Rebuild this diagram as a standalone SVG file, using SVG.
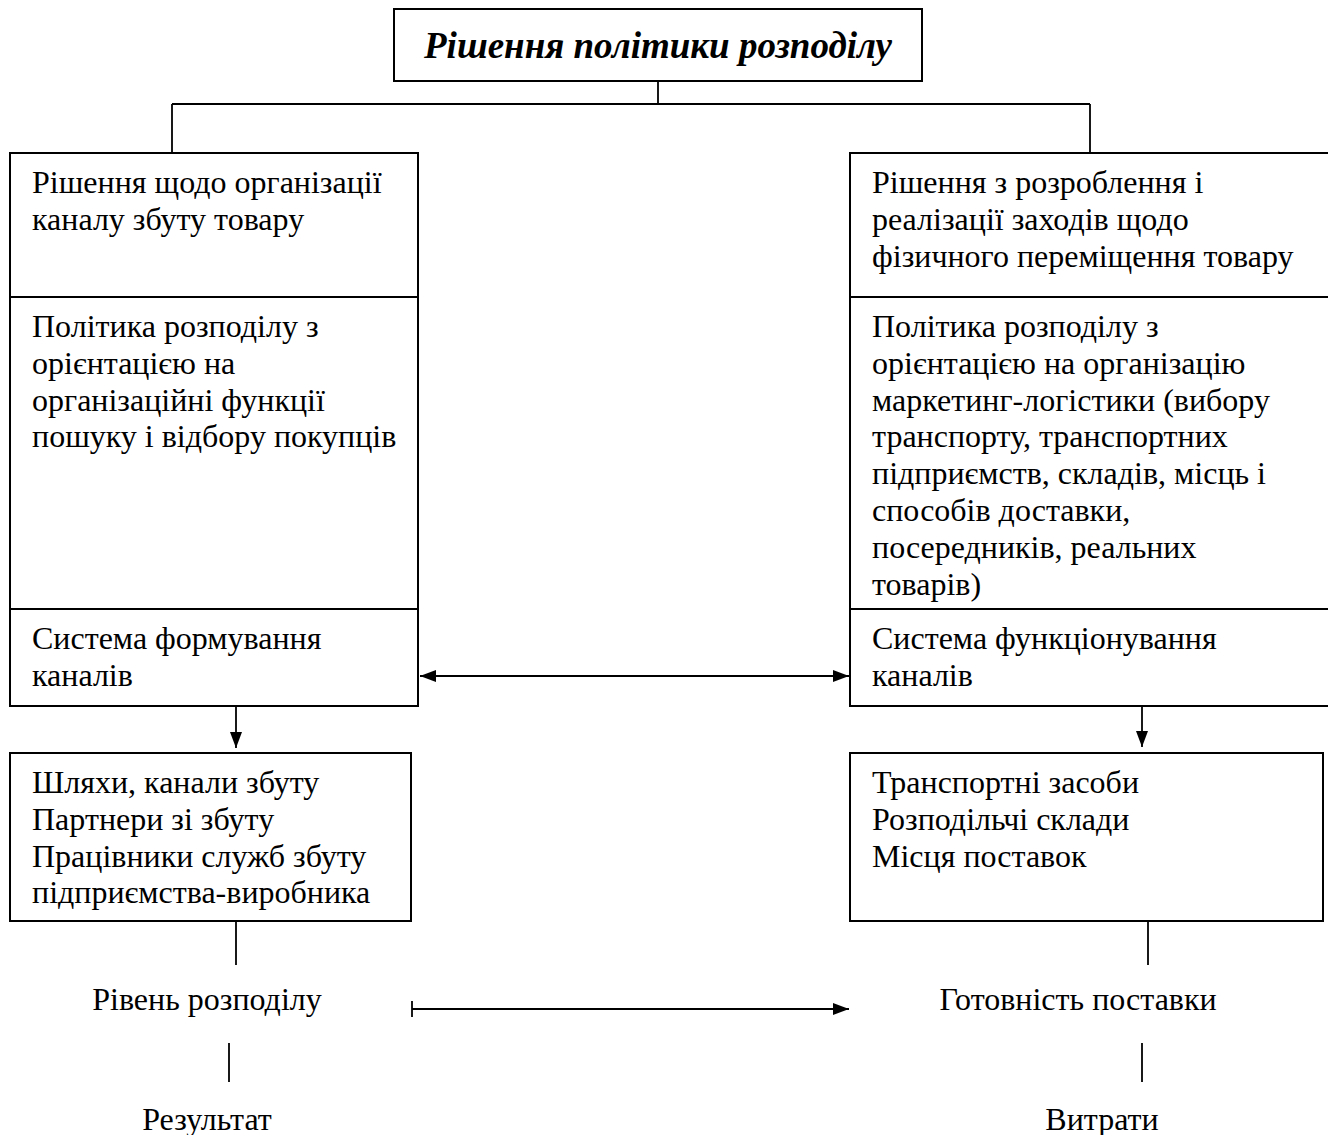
<svg xmlns="http://www.w3.org/2000/svg" width="1328" height="1135" viewBox="0 0 1328 1135">
  <style>
    .box { fill: #fff; stroke: #000; stroke-width: 2; }
    .div { stroke: #000; stroke-width: 2; }
    .ln { stroke: #000; stroke-width: 1.8; fill: none; }
    .t { font-family: "Liberation Serif", "Times New Roman", serif; font-size: 32px; fill: #000; }
    .title { font-family: "Liberation Serif", "Times New Roman", serif; font-size: 37px; font-weight: bold; font-style: italic; fill: #000; }
    .c { text-anchor: middle; }
  </style>
  <defs>
    <marker id="arrBig" viewBox="0 0 10 10" refX="10" refY="5" markerWidth="16" markerHeight="12" markerUnits="userSpaceOnUse" orient="auto-start-reverse" preserveAspectRatio="none">
      <path d="M0,0 L10,5 L0,10 Z" fill="#000"/>
    </marker>
  </defs>

  <rect width="1328" height="1135" fill="#fff"/>

  <!-- connectors -->
  <g id="connectors">
    <path class="ln" d="M658,81 V104 M172,104 H1090 M172,104 V153 M1090,104 V153"/>
    <line class="ln" x1="420" y1="676" x2="849" y2="676" marker-start="url(#arrBig)" marker-end="url(#arrBig)"/>
    <line class="ln" x1="236" y1="706" x2="236" y2="748" marker-end="url(#arrBig)"/>
    <line class="ln" x1="1142" y1="706" x2="1142" y2="747" marker-end="url(#arrBig)"/>
    <line class="ln" x1="236" y1="922" x2="236" y2="965"/>
    <line class="ln" x1="229" y1="1043" x2="229" y2="1082"/>
    <line class="ln" x1="1148" y1="922" x2="1148" y2="965"/>
    <line class="ln" x1="1142" y1="1043" x2="1142" y2="1082"/>
    <line class="ln" x1="412" y1="1009" x2="849" y2="1009" marker-end="url(#arrBig)"/>
    <line class="ln" x1="412" y1="1001" x2="412" y2="1017"/>
  </g>

  <!-- title -->
  <g id="title">
    <rect class="box" x="394" y="9" width="528" height="72"/>
    <text class="title c" x="658" y="58">Рішення політики розподілу</text>
  </g>

  <!-- left column -->
  <g id="left-column">
    <rect class="box" x="10" y="153" width="408" height="553"/>
    <line class="div" x1="10" y1="297" x2="418" y2="297"/>
    <line class="div" x1="10" y1="609" x2="418" y2="609"/>
    <text class="t" x="32" y="193">Рішення щодо організації</text>
    <text class="t" x="32" y="230">каналу збуту товару</text>
    <text class="t" x="32" y="337">Політика розподілу з</text>
    <text class="t" x="32" y="374">орієнтацією на</text>
    <text class="t" x="32" y="411">організаційні функції</text>
    <text class="t" x="32" y="447">пошуку і відбору покупців</text>
    <text class="t" x="32" y="649">Система формування</text>
    <text class="t" x="32" y="686">каналів</text>
  </g>

  <!-- right column -->
  <g id="right-column">
    <rect class="box" x="850" y="153" width="482" height="553"/>
    <line class="div" x1="850" y1="297" x2="1332" y2="297"/>
    <line class="div" x1="850" y1="609" x2="1332" y2="609"/>
    <text class="t" x="872" y="193">Рішення з розроблення і</text>
    <text class="t" x="872" y="230">реалізації заходів щодо</text>
    <text class="t" x="872" y="267">фізичного переміщення товару</text>
    <text class="t" x="872" y="337">Політика розподілу з</text>
    <text class="t" x="872" y="374">орієнтацією на організацію</text>
    <text class="t" x="872" y="411">маркетинг-логістики (вибору</text>
    <text class="t" x="872" y="447">транспорту, транспортних</text>
    <text class="t" x="872" y="484">підприємств, складів, місць і</text>
    <text class="t" x="872" y="521">способів доставки,</text>
    <text class="t" x="872" y="558">посередників, реальних</text>
    <text class="t" x="872" y="595">товарів)</text>
    <text class="t" x="872" y="649">Система функціонування</text>
    <text class="t" x="872" y="686">каналів</text>
  </g>

  <!-- lower boxes -->
  <g id="sales-channels">
    <rect class="box" x="10" y="753" width="401" height="168"/>
    <text class="t" x="32" y="793">Шляхи, канали збуту</text>
    <text class="t" x="32" y="830">Партнери зі збуту</text>
    <text class="t" x="32" y="867">Працівники служб збуту</text>
    <text class="t" x="32" y="903">підприємства-виробника</text>
  </g>
  <g id="logistics">
    <rect class="box" x="850" y="753" width="473" height="168"/>
    <text class="t" x="872" y="793">Транспортні засоби</text>
    <text class="t" x="872" y="830">Розподільчі склади</text>
    <text class="t" x="872" y="867">Місця поставок</text>
  </g>

  <!-- outcome labels -->
  <g id="distribution-level"><text class="t c" x="207" y="1010">Рівень розподілу</text></g>
  <g id="result"><text class="t c" x="207" y="1130">Результат</text></g>
  <g id="delivery-readiness"><text class="t c" x="1078" y="1010">Готовність поставки</text></g>
  <g id="costs"><text class="t c" x="1102" y="1130">Витрати</text></g>
</svg>
